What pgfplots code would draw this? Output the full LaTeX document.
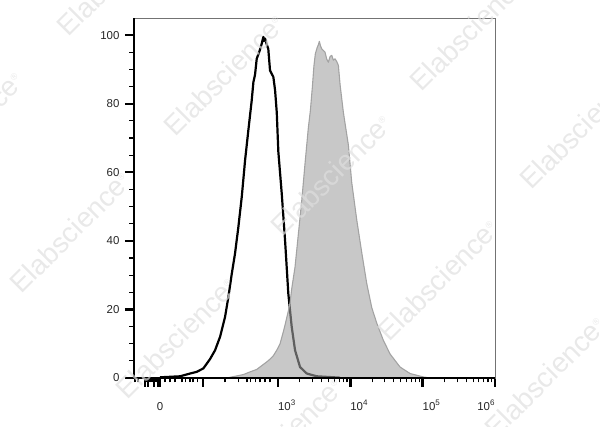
\documentclass[border=0pt]{standalone}
\usepackage{fontspec}
\setmainfont{Liberation Sans}
\usepackage{pgfplots}
\pgfplotsset{compat=1.18}
\usepackage{pgfplotstable}

\definecolor{fillgray}{gray}{0.635}
\definecolor{edgegray}{gray}{0.64}
\definecolor{wmgray}{gray}{0.875}

% x is in display units: 10^k sits at k (logicle-like axis)
\pgfplotstableread{
u y
1.368 0.2
1.645 0.5
1.783 1.3
1.876 1.8
1.967 2.8
2.059 5.5
2.129 8.1
2.198 12.0
2.267 17.8
2.313 23.6
2.360 30.4
2.405 36.3
2.451 44.0
2.498 52.8
2.544 63.5
2.589 72.2
2.636 81.0
2.659 86.3
2.682 88.5
2.705 93.1
2.746 95.5
2.774 97.5
2.797 99.5
2.806 98.3
2.820 99.0
2.848 97.0
2.865 96.0
2.889 89.7
2.935 87.8
2.959 83.9
2.982 77.5
3.004 66.0
3.051 53.8
3.097 40.1
3.142 24.6
3.189 14.9
3.235 8.1
3.304 3.2
3.397 1.3
3.535 0.5
3.858 0.1
}\blackdata

\pgfplotstableread{
u y
2.290 0
2.405 0.5
2.520 1.0
2.615 1.8
2.705 2.5
2.844 4.7
2.889 5.5
2.935 6.5
2.982 8.1
3.028 10.0
3.073 13.5
3.097 15.5
3.142 19.5
3.166 22.0
3.189 26.0
3.235 32.4
3.281 42.0
3.328 51.8
3.373 62.5
3.419 73.0
3.447 78.0
3.475 85.0
3.496 91.0
3.516 94.6
3.543 96.5
3.558 97.2
3.571 98.2
3.585 97.0
3.604 96.0
3.627 95.5
3.650 95.0
3.673 93.0
3.696 92.1
3.720 93.8
3.743 94.1
3.765 92.7
3.788 93.1
3.811 92.3
3.834 91.2
3.858 85.5
3.903 77.5
3.972 68.0
4.019 57.0
4.089 46.0
4.158 36.5
4.227 27.5
4.296 20.5
4.365 16.0
4.456 11.0
4.549 7.0
4.687 3.2
4.826 1.3
5.010 0.3
5.102 0
}\graydata

\begin{document}
\begin{tikzpicture}
\useasboundingbox (-134bp,-49bp) rectangle (466bp,378bp);
\begin{axis}[
    at={(0,0)}, anchor=south west,
    scale only axis, width=361bp, height=360bp,
    xmin=1.008, xmax=6, ymin=0, ymax=105,
    clip=false,
    axis line style={draw=black!55, line width=0.9bp},
    tick pos=left, tick align=outside,
    major tick length=9bp, minor tick length=4.5bp,
    every major tick/.style={black, line width=2.4bp},
    every minor tick/.style={black, line width=1.1bp},
    xtick={1.368,1.963,3,4,5,6},
    xticklabels={\makebox[0pt][c]{0},,\makebox[0pt][l]{10\textsuperscript{3}},\makebox[0pt][l]{10\textsuperscript{4}},\makebox[0pt][l]{10\textsuperscript{5}},\makebox[0pt][r]{10\textsuperscript{6}}},
    minor xtick={1.022,1.064,1.160,1.188,1.216,1.243,1.271,1.299,1.326,
      1.437,1.506,1.575,1.672,1.714,1.783,1.824,1.880,
      2.267,2.447,2.571,2.613,2.682,2.751,2.820,2.889,
      3.301,3.477,3.602,3.699,3.778,3.845,3.903,3.954,
      4.301,4.477,4.602,4.699,4.778,4.845,4.903,4.954,
      5.301,5.477,5.602,5.699,5.778,5.845,5.903,5.954},
    extra x ticks={1.160,1.202,1.285,1.340},
    extra x tick labels={},
    extra x tick style={major tick length=9bp},
    ytick={0,20,40,60,80,100},
    minor y tick num=3,
    xticklabel style={font=\fontsize{11.5}{13}\selectfont, text=black!85, anchor=base, yshift=-23bp},
    yticklabel style={font=\fontsize{11.5}{13}\selectfont, text=black!85, xshift=-2bp},
    /pgf/number format/assume math mode=true,
]
\addplot[black, line width=2.2bp, line join=round] table[x=u, y=y] {\blackdata};
\addplot[draw=none, fill=fillgray, fill opacity=0.59] table[x=u, y=y] {\graydata} \closedcycle;
\addplot[edgegray, line width=1.1bp, line join=round] table[x=u, y=y] {\graydata};
\draw[black, line width=1.1bp] (rel axis cs:0,0) -- (rel axis cs:1,0);
\draw[black, line width=1.2bp] (rel axis cs:0,0) -- (rel axis cs:0,1);
\end{axis}
\begin{scope}[x=1bp, y=1bp]
\foreach \X/\Y in {117/-25, -37/132, 224/75, 470/30, 331/175, 580/128, 70/232, 438/280, 176/338, 545/377, 283/438}
  \node[rotate=45, text=wmgray, text opacity=0.7, font=\fontsize{28}{30}\selectfont] at ({\X-134},{378-\Y}) {Elabscience\raisebox{10bp}{\fontsize{9}{9}\selectfont ®}};
\end{scope}
\end{tikzpicture}
\end{document}
